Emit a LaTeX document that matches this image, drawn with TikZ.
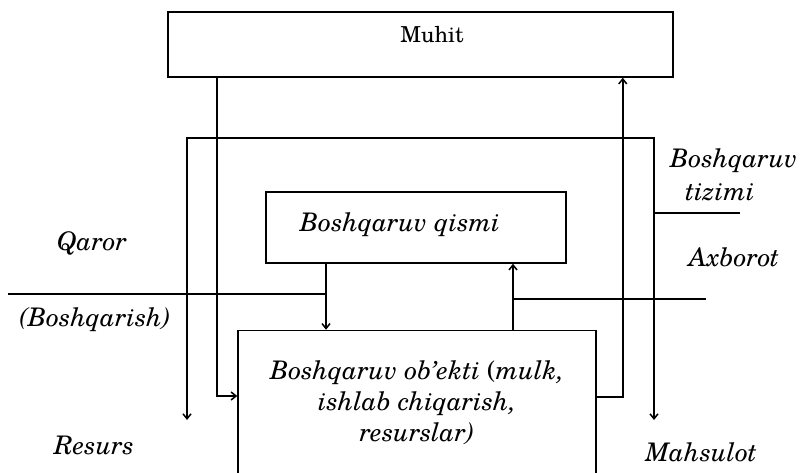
\documentclass[tikz,border=0pt]{standalone}
\usepackage{fontspec}
\setmainfont{TeX Gyre Schola}
\usetikzlibrary{arrows.meta}
\newcommand{\lblfont}{\fontsize{25.6}{31}\selectfont\itshape}
\newcommand{\muhitfont}{\fontsize{22}{26}\selectfont}
\begin{document}
\begin{tikzpicture}[x=1pt,y=-1pt,line width=1.5pt,
  box/.style={draw,inner sep=0pt},
  lbl/.style={font=\lblfont,inner sep=0pt,align=center},
  arr/.style={-{Straight Barb[length=5pt,width=8pt]}},
  darr/.style={{Straight Barb[length=5pt,width=8pt]}-{Straight Barb[length=5pt,width=8pt]}}]
\clip (0,0) rectangle (801,473);
\fill[white] (0,0) rectangle (801,473);
% boxes
\node[box,minimum width=505pt,minimum height=65pt] (muhit) at (420.5,44.5) {};
\node[inner sep=0pt,font=\muhitfont,anchor=base] (muhittxt) at (432,43) {Muhit};
\node[box,minimum width=300pt,minimum height=71pt] (qismi) at (416,227.5) {};
\node[lbl] (qismitxt) at (400,225) {Boshqaruv qismi};
\node[box,minimum width=358pt,minimum height=145pt,lbl] (obj) at (417,403) {Boshqaruv ob'ekti {\upshape(}mulk,\\ishlab chiqarish,\\resurslar)};
% Boshqaruv tizimi frame
\coordinate (rtip) at (187,420);
\coordinate (tl) at (187,138);
\coordinate (tr) at (654,138);
\coordinate (mtip) at (654,420);
\draw[darr] (rtip) -- (tl) -- (tr) -- (mtip);
\coordinate (tk1) at (654,213);
\coordinate (tk2) at (740,213);
\draw (tk1) -- (tk2);
% Muhit -> object
\draw[arr] ([xshift=49.5pt]muhit.south west) |- ([yshift=7pt]obj.west);
% object -> Muhit
\draw[arr] ([yshift=6pt]obj.east) -| ([xshift=-51pt]muhit.south east);
% Qaror
\draw[arr] ([xshift=-90pt]qismi.south) -- ([xshift=-91pt]obj.north);
\coordinate (qin) at (8,294);
\coordinate (qj) at (326,294);
\draw (qin) -- (qj);
% Axborot
\draw[arr] ([xshift=96pt]obj.north) -- ([xshift=97pt]qismi.south);
\coordinate (aj) at (513,299);
\coordinate (aout) at (706,299);
\draw (aj) -- (aout);
% labels
\node[lbl] (qaror) at (92,243) {Qaror};
\node[lbl] (boshq) at (95,320) {(Boshqarish)};
\node[lbl] (resurs) at (94,445) {Resurs};
\node[lbl] (tiz1) at (734,161) {Boshqaruv};
\node[lbl] (tiz2) at (720,192) {tizimi};
\node[lbl] (axb) at (734,257) {Axborot};
\node[lbl] (mahs) at (701,452) {Mahsulot};
\end{tikzpicture}
\end{document}
